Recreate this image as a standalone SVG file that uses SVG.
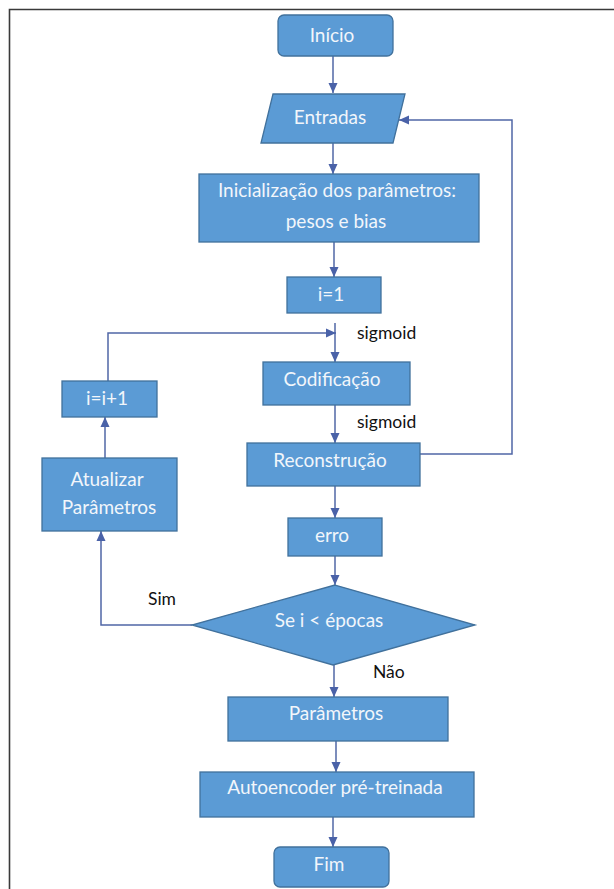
<svg xmlns="http://www.w3.org/2000/svg" width="614" height="889" viewBox="0 0 614 889">
<style>
.box{fill:#5B9BD5;stroke:#41719C;stroke-width:1.3}
.t{font-family:Lato,"Liberation Sans",sans-serif;font-size:19px;fill:#F2F6FB;text-anchor:middle}
.lbl{font-family:Lato,"Liberation Sans",sans-serif;font-size:17.5px;fill:#111}
.c{fill:none;stroke:#5067A6;stroke-width:1.5}
.frame{fill:none;stroke:#3a3a3a;stroke-width:1.6}
</style>
<defs>
<marker id="ah" viewBox="0 0 10 10" refX="10" refY="5" markerWidth="10" markerHeight="10" markerUnits="userSpaceOnUse" orient="auto">
<path d="M0,0.5 L10,5 L0,9.5 z" fill="#4A62A8"/>
</marker>
</defs>
<rect width="614" height="889" fill="#fff"/>
<path class="frame" d="M9.5,889 V9.5 H614"/>

<g id="connectors">
<path class="c" d="M333,56 V93" marker-end="url(#ah)"/>
<path class="c" d="M333,143 V174" marker-end="url(#ah)"/>
<path class="c" d="M334,242 V277" marker-end="url(#ah)"/>
<path class="c" d="M335,323 V362" marker-end="url(#ah)"/>
<path class="c" d="M108,381 V333 H336" marker-end="url(#ah)"/>
<path class="c" d="M335,405 V443" marker-end="url(#ah)"/>
<path class="c" d="M420,454 H512 V120 H399" marker-end="url(#ah)"/>
<path class="c" d="M335,486 V518" marker-end="url(#ah)"/>
<path class="c" d="M335,556 V585" marker-end="url(#ah)"/>
<path class="c" d="M334,665 V697" marker-end="url(#ah)"/>
<path class="c" d="M336,741 V772" marker-end="url(#ah)"/>
<path class="c" d="M333,817 V847" marker-end="url(#ah)"/>
<path class="c" d="M192,625 H101 V531" marker-end="url(#ah)"/>
<path class="c" d="M105,458 V417" marker-end="url(#ah)"/>
</g>

<g id="inicio"><rect class="box" x="278" y="15" width="115" height="41" rx="6"/><text class="t" x="332" y="42">Início</text></g>
<g id="entradas"><polygon class="box" points="273,94 405,94 393,143 261,143"/><text class="t" x="330" y="124">Entradas</text></g>
<g id="inicializacao"><rect class="box" x="199" y="174" width="280" height="68"/><text class="t" x="337" y="197">Inicialização dos parâmetros:</text><text class="t" x="336" y="228">pesos e bias</text></g>
<g id="i1"><rect class="box" x="287" y="277" width="94" height="36"/><text class="t" x="331" y="301">i=1</text></g>
<g id="codificacao"><rect class="box" x="263" y="362" width="147" height="43"/><text class="t" x="332" y="386">Codificação</text></g>
<g id="reconstrucao"><rect class="box" x="247" y="443" width="173" height="43"/><text class="t" x="330" y="467">Reconstrução</text></g>
<g id="erro"><rect class="box" x="288" y="518" width="94" height="38"/><text class="t" x="332" y="542">erro</text></g>
<g id="decisao"><polygon class="box" points="335,585 475,625 333,665 192,625"/><text class="t" x="329" y="627">Se i &lt; épocas</text></g>
<g id="parametros"><rect class="box" x="228" y="697" width="220" height="44"/><text class="t" x="336" y="720">Parâmetros</text></g>
<g id="autoencoder"><rect class="box" x="200" y="772" width="274" height="45"/><text class="t" x="335" y="794">Autoencoder pré-treinada</text></g>
<g id="fim"><rect class="box" x="274" y="847" width="115" height="40" rx="6"/><text class="t" x="329" y="871">Fim</text></g>
<g id="incremento"><rect class="box" x="62" y="381" width="95" height="36"/><text class="t" x="107" y="405">i=i+1</text></g>
<g id="atualizar"><rect class="box" x="42" y="458" width="135" height="73"/><text class="t" x="107" y="486">Atualizar</text><text class="t" x="109" y="514">Parâmetros</text></g>

<g id="labels">
<text class="lbl" x="357" y="339">sigmoid</text>
<text class="lbl" x="357" y="428">sigmoid</text>
<text class="lbl" x="148" y="605">Sim</text>
<text class="lbl" x="373" y="678">Não</text>
</g>
</svg>
